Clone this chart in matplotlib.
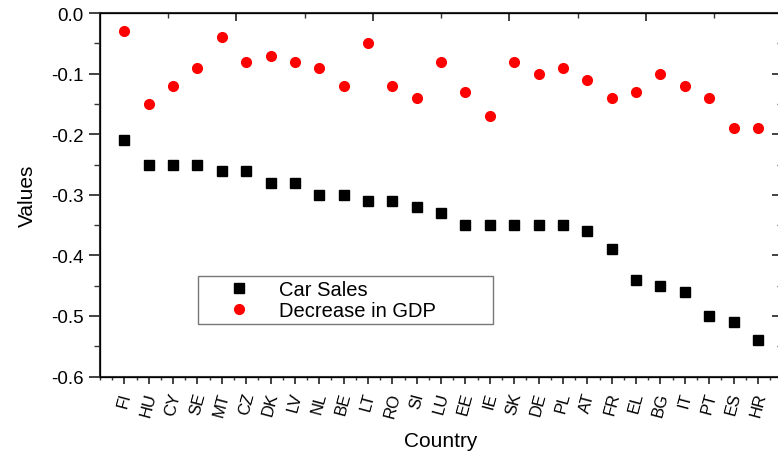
import numpy as np
import matplotlib.pyplot as plt
from matplotlib.ticker import MultipleLocator

plt.rcParams['font.family'] = ['Liberation Sans', 'DejaVu Sans']

# country codes, ordered by car sales change
countries = ['FI', 'HU', 'CY', 'SE', 'MT', 'CZ', 'DK', 'LV', 'NL', 'BE', 'LT', 'RO', 'SI', 'LU',
             'EE', 'IE', 'SK', 'DE', 'PL', 'AT', 'FR', 'EL', 'BG', 'IT', 'PT', 'ES', 'HR']
car_sales = [-0.21, -0.25, -0.25, -0.25, -0.26, -0.26, -0.28, -0.28, -0.30, -0.30, -0.31, -0.31, -0.32, -0.33,
             -0.35, -0.35, -0.35, -0.35, -0.35, -0.36, -0.39, -0.44, -0.45, -0.46, -0.50, -0.51, -0.54]
gdp_decrease = [-0.03, -0.15, -0.12, -0.09, -0.04, -0.08, -0.07, -0.08, -0.09, -0.12, -0.05, -0.12, -0.14, -0.08,
                -0.13, -0.17, -0.08, -0.10, -0.09, -0.11, -0.14, -0.13, -0.10, -0.12, -0.14, -0.19, -0.19]

x = np.arange(1, len(countries) + 1)
axis_col = '#333333'

fig = plt.figure(figsize=(7.78, 4.56), dpi=100)
ax = fig.add_axes([0.1285, 0.172, 0.877, 0.797])

ax.plot(x, car_sales, 's', color='black', markersize=6.5, label='Car Sales')
ax.plot(x, gdp_decrease, 'o', color='red', markersize=7, label='Decrease in GDP')

ax.set_xlim(0, len(countries) + 1)
ax.set_ylim(-0.6, 0.0)
ax.set_xticks(x)
ax.set_xticklabels(countries, rotation=75, fontsize=12)
ax.xaxis.set_minor_locator(MultipleLocator(0.5))
ax.yaxis.set_major_locator(MultipleLocator(0.1))
ax.yaxis.set_minor_locator(MultipleLocator(0.05))
ax.yaxis.set_major_formatter(plt.FuncFormatter(lambda v, p: f'{v:.1f}'.replace('-0.0', '0.0')))

ax.tick_params(axis='y', which='major', direction='out', length=8, width=1.3, labelsize=13.5, pad=4, color=axis_col)
ax.tick_params(axis='y', which='minor', direction='out', length=4, width=1.0, color=axis_col)
ax.tick_params(axis='x', which='major', direction='out', length=5, width=1.3, pad=5, color=axis_col)
ax.tick_params(axis='x', which='minor', direction='out', length=2.5, width=1.0, color=axis_col)
for sp in ax.spines.values():
    sp.set_linewidth(1.5)
    sp.set_color(axis_col)

# inward ticks on the top edge (0-1 scale) and right edge
top = ax.twiny()
top.set_xlim(0, 1)
top.xaxis.set_major_locator(MultipleLocator(0.2))
top.xaxis.set_minor_locator(MultipleLocator(0.1))
top.tick_params(which='major', direction='in', length=6, width=1.3, labeltop=False, color=axis_col)
top.tick_params(which='minor', direction='in', length=3.5, width=1.0, color=axis_col)

right = ax.twinx()
right.set_ylim(ax.get_ylim())
right.yaxis.set_major_locator(MultipleLocator(0.1))
right.yaxis.set_minor_locator(MultipleLocator(0.05))
right.tick_params(which='major', direction='in', length=7, width=1.3, labelright=False, color=axis_col)
right.tick_params(which='minor', direction='in', length=3.5, width=1.0, color=axis_col)

ax.set_xlabel('Country', fontsize=15, labelpad=9)
ax.set_ylabel('Values', fontsize=15, labelpad=10)

leg = ax.legend(loc='lower left', bbox_to_anchor=(0.1437, 0.145, 0.4325, 0.132), mode='expand',
                frameon=True, fancybox=False, edgecolor='#555555', fontsize=14.5,
                handletextpad=0.1, borderpad=0.2, labelspacing=0.1, handlelength=3.7,
                borderaxespad=0)
leg.get_frame().set_linewidth(1.0)

fig.savefig('out.png', dpi=100)
